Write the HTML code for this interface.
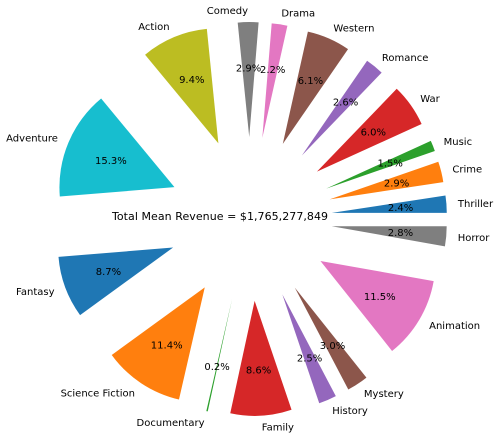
<!DOCTYPE html>
<html><head><meta charset="utf-8"><style>
html,body{margin:0;padding:0;background:#fff;width:499px;height:438px;overflow:hidden}
svg{display:block;font-family:"DejaVu Sans","Liberation Sans",sans-serif}
</style></head><body>
<svg id="chart" width="499" height="438" viewBox="0 0 499 438" xmlns="http://www.w3.org/2000/svg">
<text x="112" y="220" font-size="11" textLength="216" fill="#000">Total Mean Revenue = $1,765,277,849</text>
</svg>
<script>
const genres = ["Thriller","Crime","Music","War","Romance","Western","Drama","Comedy","Action","Adventure","Fantasy","Science Fiction","Documentary","Family","History","Mystery","Animation","Horror"];
const shares = [2.4,2.9,1.5,6.0,2.6,6.1,2.2,2.9,9.4,15.3,8.7,11.4,0.2,8.6,2.5,3.0,11.5,2.8];
const colors = ["#1f77b4","#ff7f0e","#2ca02c","#d62728","#9467bd","#8c564b","#e377c2","#7f7f7f","#bcbd22","#17becf"];
const svg = document.getElementById('chart');
const NS = "http://www.w3.org/2000/svg";
const cx = 250, cy = 219, R = 115, EXP = 82;
const total = shares.reduce((a,b)=>a+b,0);
let start = 0;
function pt(ox, oy, r, deg){ const a = deg*Math.PI/180; return [ox + r*Math.cos(a), oy - r*Math.sin(a)]; }
shares.forEach((v,i)=>{
  const sweep = v/total*360;
  const a1 = start, a2 = start + sweep, mid = (a1+a2)/2;
  const [tx,ty] = pt(cx,cy,EXP,mid);
  const [x1,y1] = pt(tx,ty,R,a1);
  const [x2,y2] = pt(tx,ty,R,a2);
  const p = document.createElementNS(NS,'path');
  p.setAttribute('d',`M${tx},${ty} L${x1},${y1} A${R},${R} 0 ${sweep>180?1:0} 0 ${x2},${y2} Z`);
  p.setAttribute('fill',colors[i%10]);
  
  
  svg.appendChild(p);
  const [px,py] = pt(tx,ty,R*0.6,mid);
  const t = document.createElementNS(NS,'text');
  t.setAttribute('x',px); t.setAttribute('y',py+3.5);
  t.setAttribute('text-anchor','middle'); t.setAttribute('font-size','10');
  t.textContent = v.toFixed(1)+'%';
  
  
  svg.appendChild(t);
  const [lx,ly] = pt(tx,ty,R*1.1,mid);
  const l = document.createElementNS(NS,'text');
  l.setAttribute('x',lx); l.setAttribute('y',ly+3.5);
  l.setAttribute('text-anchor', Math.cos(mid*Math.PI/180) < 0 ? 'end' : 'start');
  l.setAttribute('font-size','10');
  l.textContent = genres[i];
  
  
  svg.appendChild(l);
  start = a2;
});
</script>
</body></html>
